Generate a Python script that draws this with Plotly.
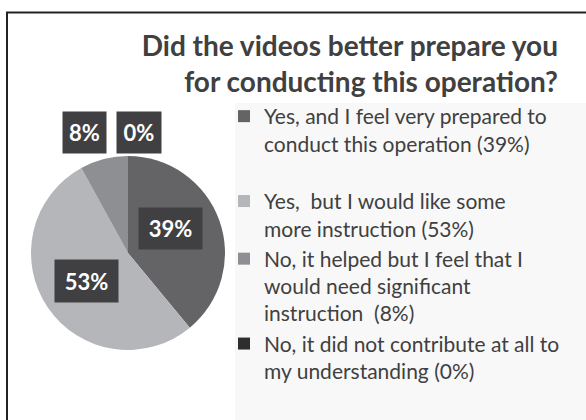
import plotly.graph_objects as go

title_lines = ["Did the videos better prepare you", "for conducting this operation?"]
categories = [
    "Yes, and I feel very prepared to<br>conduct this operation",
    "Yes,  but I would like some<br>more instruction",
    "No, it helped but I feel that I<br>would need significant<br>instruction ",
    "No, it did not contribute at all to<br>my understanding",
]
values = [39, 53, 8, 0]
colors = ["#646466", "#b5b6b9", "#8e8f92", "#2e2e2e"]
# blank trailing line mimics the extra spacing after the first legend entry
extra_gap = [True, False, False, False]

legend_text = [
    f"{c} ({v}%)" + ("<br> " if g else "")
    for c, v, g in zip(categories, values, extra_gap)
]

W, H = 586, 420
FONT = "Lato, 'Open Sans', sans-serif"
TXT = "#404040"

fig = go.Figure()
fig.add_trace(go.Pie(
    labels=legend_text,
    values=values,
    sort=False,
    direction="clockwise",
    rotation=0,
    marker=dict(colors=colors, line=dict(width=0)),
    textinfo="none",
    hoverinfo="label+percent",
    domain=dict(x=[31 / W, 225 / W], y=[(H - 350) / H, (H - 156) / H]),
    showlegend=True,
))

# data label boxes (center x, center y, width, height) in pixels
label_boxes = [(170.5, 228.5, 63, 41), (86.5, 281, 63, 42), (84.5, 132.5, 43, 41), (139, 132.5, 44, 41)]
annotations = []
for v, (cx, cy, bw, bh) in zip(values, label_boxes):
    annotations.append(dict(
        x=cx / W, y=1 - cy / H, xref="paper", yref="paper",
        xanchor="center", yanchor="middle",
        text=f"<b>{v}%</b>", showarrow=False,
        font=dict(family=FONT, size=22, color="white"),
        bgcolor="#404042", borderpad=0, width=bw, height=bh,
    ))

shapes = [
    # legend background panel
    dict(type="rect", xref="paper", yref="paper", x0=235 / W, x1=1.0, y0=0, y1=1 - 103 / H,
         fillcolor="#f8f8f8", line=dict(width=0), layer="below"),
    # outer chart frame (clipped at right/bottom)
    dict(type="rect", xref="paper", yref="paper", x0=7 / W, x1=1.05, y0=-0.05, y1=1 - 12.5 / H,
         fillcolor="rgba(0,0,0,0)", line=dict(color="#222222", width=2)),
]

fig.update_layout(
    width=W, height=H,
    margin=dict(l=0, r=0, t=0, b=0),
    paper_bgcolor="white",
    plot_bgcolor="white",
    font=dict(family=FONT, color=TXT),
    title=dict(
        text="<b>" + "<br>".join(title_lines) + "</b>",
        x=558 / W, xanchor="right", xref="paper",
        y=1 - 56 / H, yanchor="middle", yref="container",
        font=dict(family=FONT, size=28, color=TXT),
    ),
    legend=dict(
        x=224 / W, xanchor="left", y=1 - 96 / H, yanchor="top",
        bgcolor="rgba(0,0,0,0)", valign="top",
        font=dict(family=FONT, size=21, color=TXT),
        traceorder="normal",
    ),
    annotations=annotations,
    shapes=shapes,
)

fig.write_html("out.html")
